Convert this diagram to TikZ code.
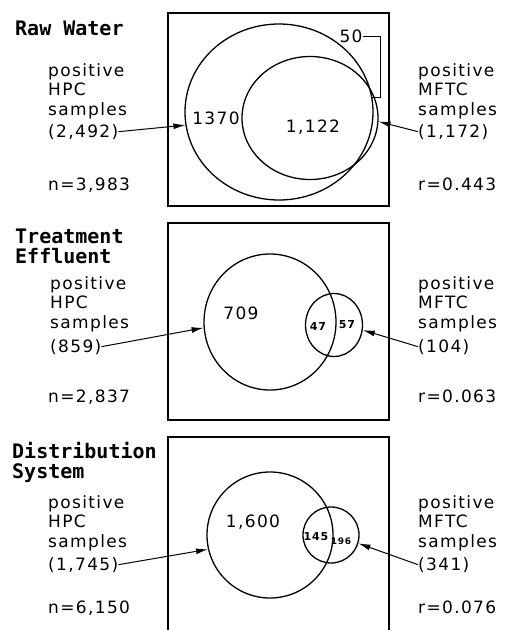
\documentclass[tikz,border=0pt]{standalone}
\usepackage{fontspec}
\setmainfont{DejaVu Sans}[LetterSpace=8]
\newfontfamily\headfont{DejaVu Sans Mono}
\usetikzlibrary{arrows.meta}
\usetikzlibrary{positioning,shapes,calc}
\tikzset{panel/.style={line width=2.6pt},
		venn/.style={ellipse,draw,line width=1.3pt,inner sep=0pt},
		heading/.style={anchor=base west,align=left,inner sep=0pt,
		                font=\headfont\bfseries\fontsize{20}{20}\selectfont},
		side/.style={anchor=base west,align=left,inner sep=0pt,
		             font=\fontsize{17}{19.5}\selectfont},
		count/.style={anchor=base west,inner sep=0pt,font=\fontsize{17}{20}\selectfont},
		region/.style={inner sep=0pt,font=\fontsize{17}{20}\selectfont},
		regionS/.style={inner sep=0pt,font=\bfseries\fontsize{11}{11}\selectfont},
		pointer/.style={-{Latex[length=12pt,width=6pt]},line width=1pt},
		every node/.style={align=center}}
\begin{document}
\begin{tikzpicture}[x=1pt,y=-1pt]
\useasboundingbox (0,0) rectangle (505,630);
% frames
\draw[panel] (168,13) rectangle (389,206);
\draw[panel] (168,223) rectangle (389,420);
\draw[panel] (168,632) -- (168,437) -- (389,437) -- (389,632);

% Raw Water
\node[heading] (headA) at (15,35) {Raw Water};
\node[side] (hpcA) at (48,115) {positive\\HPC\\samples};
\node[count] (hpcnA) at (48,137) {(2,492)};
\node[count] (nA) at (48,190) {n=3,983};
\node[side] (mftcA) at (418,115) {positive\\MFTC\\samples};
\node[count] (mftcnA) at (418,137) {(1,172)};
\node[count] (rA) at (418,190) {r=0.443};
\node[venn,minimum width=188,minimum height=176] (bigA) at (279,112) {};
\node[venn,minimum width=136,minimum height=123] (smallA) at (310,118) {};
\node[region] (onlyA) at (216,118) {1370};
\node[region] (bothA) at (313,127) {1,122};
\node[region] (fiftyA) at (351,36) {50};
\coordinate (fiftyEndA) at (371,97);
\draw[line width=1pt] (fiftyA.east) -| ([xshift=9pt]fiftyEndA) -- (fiftyEndA);
\draw[pointer] (hpcnA.east) -- (bigA.188);
\draw[pointer] (mftcnA.west) -- (smallA.357);

% Treatment Effluent
\node[heading] (headB) at (15,263) {Treatment\\Effluent};
\node[side] (hpcB) at (50,328) {positive\\HPC\\samples};
\node[count] (hpcnB) at (50,352) {(859)};
\node[count] (nB) at (48,402) {n=2,837};
\node[side] (mftcB) at (418,328) {positive\\MFTC\\samples};
\node[count] (mftcnB) at (418,352) {(104)};
\node[count] (rB) at (418,402) {r=0.063};
\node[venn,minimum width=132,minimum height=136] (bigB) at (270,322) {};
\node[venn,minimum width=57,minimum height=63] (smallB) at (334,325) {};
\node[region] (onlyB) at (241,313) {709};
\node[regionS] (bothB) at (318,326) {47};
\node[regionS] (mftcOnlyB) at (347,325) {57};
\draw[pointer] (hpcnB.east) -- (bigB.185);
\draw[pointer] (mftcnB.west) -- (smallB.350);

% Distribution System
\node[heading] (headC) at (12,478) {Distribution\\System};
\node[side] (hpcC) at (48,547) {positive\\HPC\\samples};
\node[count] (hpcnC) at (48,570) {(1,745)};
\node[count] (nC) at (48,613) {n=6,150};
\node[side] (mftcC) at (418,547) {positive\\MFTC\\samples};
\node[count] (mftcnC) at (418,570) {(341)};
\node[count] (rC) at (418,613) {r=0.076};
\node[venn,minimum width=126,minimum height=126] (bigC) at (270,535) {};
\node[venn,minimum width=56,minimum height=56] (smallC) at (331,535) {};
\node[region] (onlyC) at (253,522) {1,600};
\node[regionS] (bothC) at (316,537) {145};
\node[regionS,font=\bfseries\fontsize{9}{9}\selectfont] (mftcOnlyC) at (341,541) {196};
\draw[pointer] (hpcnC.east) -- (bigC.193);
\draw[pointer] (mftcnC.west) -- (smallC.343);
\end{tikzpicture}
\end{document}
